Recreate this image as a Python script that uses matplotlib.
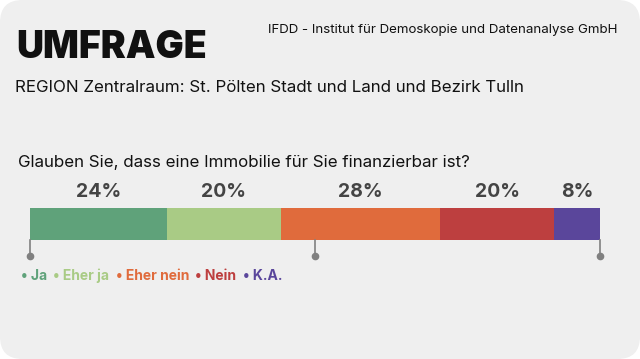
import matplotlib.pyplot as plt
from matplotlib.patches import FancyBboxPatch

categories = ['Ja', 'Eher ja', 'Eher nein', 'Nein', 'K.A.']
values = [24, 20, 28, 20, 8]
colors = ['#5fa27a', '#a9cb85', '#e06b3c', '#bd3f3f', '#5a469b']
ticks = [0, 50, 100]

FONT = 'Inter'
W, H = 640, 359

fig = plt.figure(figsize=(W / 100, H / 100), dpi=100, facecolor='white')

# rounded light-grey card
bg = FancyBboxPatch((0.0, 0.0), 1, 1, boxstyle='round,pad=0,rounding_size=0.035',
                    transform=fig.transFigure, facecolor='#efefef', edgecolor='none',
                    mutation_aspect=W / H, zorder=-10)
fig.patches.append(bg)

def fx(px):
    return px / W

def fy(py):
    return 1 - py / H

fig.text(fx(16), fy(48), 'UMFRAGE', fontsize=27, fontweight='black', family=FONT,
         color='#111111', va='center', ha='left')
fig.text(fx(618), fy(30), 'IFDD - Institut für Demoskopie und Datenanalyse GmbH',
         fontsize=9.6, family=FONT, color='#111111', va='center', ha='right')
fig.text(fx(15), fy(87), 'REGION Zentralraum: St. Pölten Stadt und Land und Bezirk Tulln',
         fontsize=12.2, family=FONT, color='#111111', va='center', ha='left')
fig.text(fx(18), fy(162), 'Glauben Sie, dass eine Immobilie für Sie finanzierbar ist?',
         fontsize=12.2, family=FONT, color='#111111', va='center', ha='left')

# stacked bar
ax = fig.add_axes([fx(30), fy(240), fx(600) - fx(30), (240 - 208) / H])
ax.set_xlim(0, 100)
ax.set_ylim(0, 1)
ax.axis('off')

left = 0
for cat, v, c in zip(categories, values, colors):
    ax.barh(0.5, v, left=left, height=1, color=c, edgecolor='none')
    ax.text(left + v / 2, 1.5, f'{v}%', ha='center', va='center', fontsize=14,
            fontweight='bold', family=FONT, color='#444444', clip_on=False)
    left += v

for t in ticks:
    ax.plot([t, t], [0, -0.5], color='#808080', lw=1.2, clip_on=False)
    ax.plot(t, -0.5, 'o', color='#808080', ms=4.5, clip_on=False)

# legend
legend_x = [21, 53, 116, 195, 243]
for cat, c, x in zip(categories, colors, legend_x):
    fig.text(fx(x), fy(276), f'• {cat}', fontsize=10, fontweight='bold', family=FONT,
             color=c, va='center', ha='left')

fig.savefig('out.png', dpi=100, facecolor='white')
